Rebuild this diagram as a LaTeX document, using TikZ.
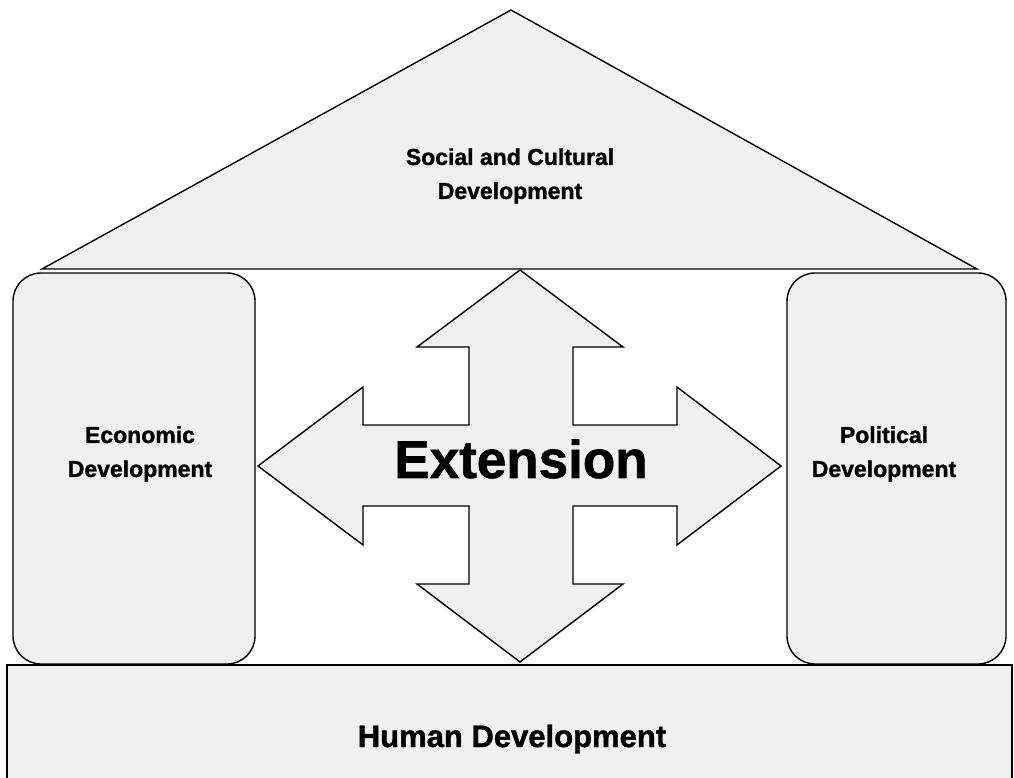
\documentclass[tikz,border=0pt]{standalone}
\usepackage{fontspec}
\setmainfont{Liberation Sans}
\newfontfamily\heavyfont[FakeBold=1.2]{Liberation Sans Bold}
\begin{document}
\begin{tikzpicture}[x=1pt,y=-1pt,
  shapeline/.style={draw=black,line width=1.4pt,fill=black!6,line join=miter},
  sidebox/.style={shapeline,rounded corners=28pt},
  label/.style={font=\heavyfont\fontsize{23}{34}\selectfont,align=center,inner sep=0pt},
  biglabel/.style={font=\heavyfont\fontsize{53}{60}\selectfont,inner sep=0pt}]
\useasboundingbox (0,0) rectangle (1014,778);
% roof
\coordinate (roofL) at (42,269);
\coordinate (roofT) at (511,10);
\coordinate (roofR) at (977,269);
\draw[shapeline] (roofL) -- (roofT) -- (roofR) -- cycle;
% side pillars
\draw[sidebox] (13,273) rectangle (255,664);
\draw[sidebox] (787,273) rectangle (1006,664);
% base
\fill[black!6] (7,665) rectangle (1012,778);
\coordinate (baseBL) at (7,800);
\coordinate (baseTL) at (7,665);
\coordinate (baseTR) at (1012,665);
\coordinate (baseBR) at (1012,800);
\draw[line width=1.4pt] (baseBL) -- (baseTL) -- (baseTR) -- (baseBR);
% cross arrow
\draw[shapeline]
  (520,270) -- (623,347) -- (573,347) -- (573,425) -- (677,425) -- (677,387)
  -- (781,466) -- (677,545) -- (677,506) -- (573,506) -- (573,584) -- (623,584)
  -- (520,662) -- (417,584) -- (469,584) -- (469,506) -- (363,506) -- (363,545)
  -- (258,466) -- (363,387) -- (363,425) -- (469,425) -- (469,347) -- (417,347)
  -- cycle;
% labels
\node[label] (social) at (510,176) {Social and Cultural\\Development};
\node[label] (econ) at (140,454) {Economic\\Development};
\node[label] (polit) at (884,454) {Political\\Development};
\node[biglabel] (ext) at (521,459) {Extension};
\node[label,font=\heavyfont\fontsize{31}{36}\selectfont] (human) at (512,739) {Human Development};
\end{tikzpicture}
\end{document}
